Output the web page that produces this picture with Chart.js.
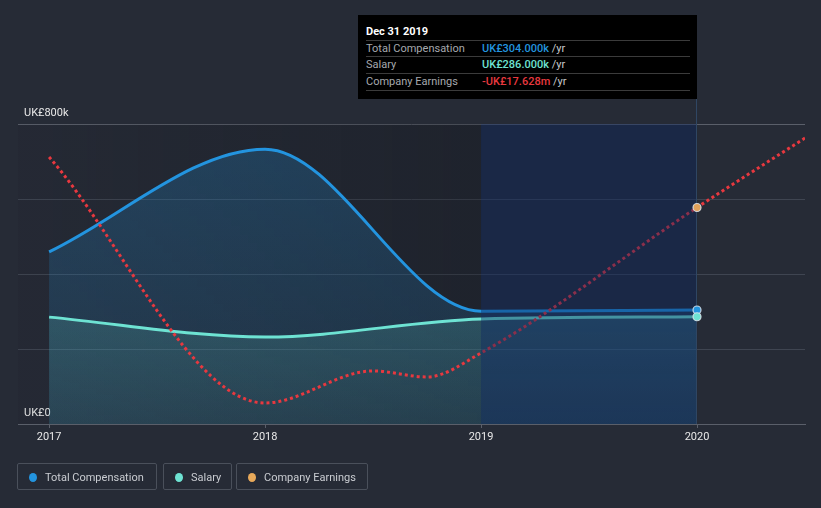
<!DOCTYPE html>
<html>
<head>
<meta charset="utf-8">
<script src="https://cdn.jsdelivr.net/npm/chart.js@4.4.0/dist/chart.umd.min.js"></script>
<style>
  html, body { margin:0; padding:0; background:#262b36; }
  body { width:821px; height:508px; position:relative; overflow:hidden; font-family: Roboto, "Liberation Sans", sans-serif; }
  #wrap { position:absolute; left:0; top:0; width:821px; height:508px; }
  #tip { position:absolute; left:358px; top:15px; width:339px; height:84px; background:#000; color:#fff; font-size:11px; }
  #tip .title { position:absolute; left:8px; top:10px; font-weight:bold; }
  #tip .row { position:absolute; left:8px; width:324px; height:16px; border-top:1px solid #3b3b3b; line-height:16px; }
  #tip .row .lab { position:absolute; left:0; color:#a6a9ae; }
  #tip .row .val { position:absolute; left:116px; font-weight:500; }
  #tip .row .unit { color:#c8cacd; font-weight:normal; }
  #tip .last { position:absolute; left:8px; width:324px; top:75px; border-top:1px solid #3b3b3b; }
  .leg { position:absolute; top:463px; height:27px; border:1px solid #4a505b; border-radius:2px; color:#c9ccd1; font-size:11px; line-height:27px; box-sizing:border-box; }
  .leg .dot { position:absolute; left:11px; top:9px; width:8px; height:9px; border-radius:50%; }
  .leg .txt { position:absolute; left:27px; top:0; white-space:nowrap; }
</style>
</head>
<body>
<div id="wrap"><canvas id="c" width="821" height="508"></canvas></div>
<div id="tip">
  <div class="title">Dec 31 2019</div>
  <div class="row" style="top:25px"><span class="lab">Total Compensation</span><span class="val" style="color:#2394df">UK£304.000k <span class="unit">/yr</span></span></div>
  <div class="row" style="top:41px"><span class="lab">Salary</span><span class="val" style="color:#6ee3d3">UK£286.000k <span class="unit">/yr</span></span></div>
  <div class="row" style="top:58px"><span class="lab">Company Earnings</span><span class="val" style="color:#e8383f">-UK£17.628m <span class="unit">/yr</span></span></div>
  <div class="last"></div>
</div>
<div class="leg" style="left:17px;width:140px"><span class="dot" style="background:#2394df"></span><span class="txt">Total Compensation</span></div>
<div class="leg" style="left:163px;width:69px"><span class="dot" style="background:#6ee3d3"></span><span class="txt">Salary</span></div>
<div class="leg" style="left:236px;width:132px"><span class="dot" style="background:#e8a95a"></span><span class="txt">Company Earnings</span></div>
<script>
// ---- data ----
const compYears = [2017, 2018, 2019, 2020];
const totalComp = [459000, 733000, 301000, 304000];
const salary = [285000, 232000, 280000, 286000];
const earnYears = [2017, 2018, 2018.5, 2018.75, 2019, 2020, 2020.5];
const earnings = [-12.41, -37.83, -34.52, -35.14, -32.66, -17.628, -10.45]; // UK£m
const xTicks = [2017, 2018, 2019, 2020];
const yLabels = {0: 'UK£0', 800000: 'UK£800k'};
const highlightFrom = 2019, highlightTo = 2020;

const pts = (xs, ys) => xs.map((x, i) => ({x: x, y: ys[i]}));

function vGrad(ctx, area, c1, c2) {
  const g = ctx.createLinearGradient(0, area.top, 0, area.bottom);
  g.addColorStop(0, c1); g.addColorStop(1, c2); return g;
}

const bgPlugin = {
  id: 'bgPlugin',
  beforeDatasetsDraw(chart) {
    const {ctx, chartArea: a, scales: {x}} = chart;
    const x0 = x.getPixelForValue(2017), x1 = x.getPixelForValue(highlightFrom);
    ctx.save();
    const g = ctx.createLinearGradient(x0, 0, x1, 0);
    g.addColorStop(0, 'rgba(10,12,18,0.05)');
    g.addColorStop(1, 'rgba(10,12,18,0.25)');
    ctx.fillStyle = g;
    ctx.fillRect(a.left, a.top, x1 - a.left, a.bottom - a.top);
    ctx.restore();
  },
  afterDatasetsDraw(chart) {
    const {ctx, chartArea: a, scales: {x}} = chart;
    const x1 = x.getPixelForValue(highlightFrom), x2 = x.getPixelForValue(highlightTo);
    ctx.save();
    ctx.fillStyle = 'rgba(10,36,92,0.42)';
    ctx.fillRect(x1, a.top, x2 - x1, a.bottom - a.top);
    ctx.strokeStyle = '#2f4663';
    ctx.lineWidth = 1;
    ctx.beginPath(); ctx.moveTo(Math.round(x2) - 0.5, 99); ctx.lineTo(Math.round(x2) - 0.5, a.bottom); ctx.stroke();
    // points at highlightTo
    const marks = [[2, 3, '#2394df'], [1, 3, '#6ee3d3'], [0, 5, '#e0a15a']];
    marks.forEach(([di, idx, col]) => {
      const el = chart.getDatasetMeta(di).data[idx];
      ctx.beginPath(); ctx.arc(el.x, el.y, 4, 0, Math.PI * 2);
      ctx.fillStyle = col; ctx.fill();
      ctx.lineWidth = 1.2; ctx.strokeStyle = 'rgba(225,230,238,0.85)'; ctx.stroke();
    });
    ctx.restore();
  }
};

new Chart(document.getElementById('c'), {
  type: 'line',
  data: {
    datasets: [
      { label: 'Company Earnings', data: pts(earnYears, earnings), yAxisID: 'y2',
        borderColor: '#e8383f', borderWidth: 3, borderDash: [3, 3], fill: false,
        pointRadius: 0, cubicInterpolationMode: 'monotone' },
      { label: 'Salary', data: pts(compYears, salary), yAxisID: 'y',
        borderColor: '#6ee3d3', borderWidth: 3, pointRadius: 0, cubicInterpolationMode: 'monotone',
        fill: 'origin',
        backgroundColor: (c) => c.chart.chartArea ? vGrad(c.chart.ctx, c.chart.chartArea, 'rgba(110,227,211,0.30)', 'rgba(110,227,211,0.08)') : 'rgba(110,227,211,0.2)' },
      { label: 'Total Compensation', data: pts(compYears, totalComp), yAxisID: 'y',
        borderColor: '#2394df', borderWidth: 3, pointRadius: 0, cubicInterpolationMode: 'monotone',
        fill: 'origin',
        backgroundColor: (c) => c.chart.chartArea ? vGrad(c.chart.ctx, c.chart.chartArea, 'rgba(35,148,223,0.25)', 'rgba(35,148,223,0.12)') : 'rgba(35,148,223,0.2)' }
    ]
  },
  options: {
    responsive: false, animation: false, maintainAspectRatio: false,
    layout: { padding: { left: 18, right: 16, top: 124, bottom: 54 } },
    plugins: { legend: { display: false }, tooltip: { enabled: false } },
    scales: {
      x: {
        type: 'linear', min: 2016.856, max: 2020.5,
        afterBuildTicks: (s) => { s.ticks = xTicks.map(v => ({value: v})); },
        afterFit: (s) => { s.height = 30; },
        grid: { drawOnChartArea: false, drawTicks: true, tickLength: 4, color: '#5a5f6a' },
        border: { display: true, color: '#5a5f6a' },
        ticks: { color: '#e8e8e8', font: { family: 'Roboto', size: 11 }, padding: 3, maxRotation: 0,
                 callback: (v) => String(v) }
      },
      y: {
        min: 0, max: 800000,
        afterFit: (s) => { s.width = 0; },
        grid: { color: (c) => (c.tick.value === 800000 || c.tick.value === 0) ? '#5a5f6a' : '#3f4551', drawTicks: false },
        border: { display: false },
        ticks: { stepSize: 200000, mirror: true, padding: 6, labelOffset: -11, color: '#e8e8e8',
                 font: { family: 'Roboto', size: 11 },
                 callback: (v) => yLabels[v] !== undefined ? yLabels[v] : '' }
      },
      y2: { display: false, min: -40, max: -9 }
    }
  },
  plugins: [bgPlugin]
});
</script>
</body>
</html>
